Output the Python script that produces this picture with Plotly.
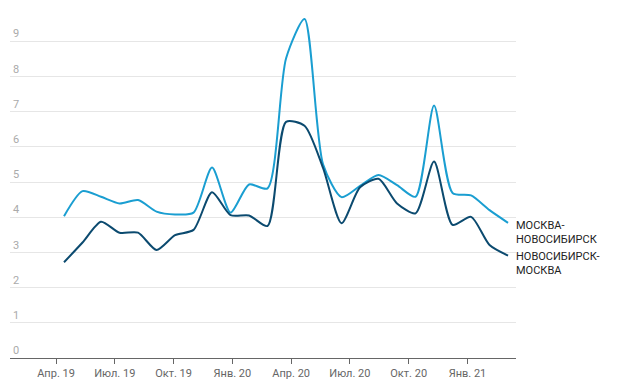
import plotly.graph_objects as go

# Data
moscow_nsk = [4.03, 4.74, 4.58, 4.39, 4.49, 4.16, 4.08, 4.13, 5.41, 4.13, 4.93, 4.82,
              8.51, 9.63, 5.50, 4.57, 4.89, 5.20, 4.91, 4.58, 7.17, 4.69, 4.62, 4.20, 3.84]
nsk_moscow = [2.72, 3.28, 3.87, 3.56, 3.56, 3.07, 3.49, 3.64, 4.71, 4.06, 4.05, 3.75,
              6.71, 6.60, 5.40, 3.83, 4.85, 5.09, 4.39, 4.11, 5.58, 3.78, 4.01, 3.21, 2.91]
x_ticklabels = ["Апр. 19", "Июл. 19", "Окт. 19", "Янв. 20", "Апр. 20", "Июл. 20", "Окт. 20", "Янв. 21"]
y_ticks = [0, 1, 2, 3, 4, 5, 6, 7, 8, 9]
label_a = "МОСКВА-<br>НОВОСИБИРСК"
label_b = "НОВОСИБИРСК-<br>МОСКВА"

LIGHT = "#1a9ed1"
DARK = "#0b4a6f"
FONT = "Roboto"

n = len(moscow_nsk)
xs = list(range(n))
# quarter ticks relative to data index
first_tick = -0.432
tick_step = 3.177
tickvals = [first_tick + i * tick_step for i in range(len(x_ticklabels))]

fig = go.Figure()
fig.add_trace(go.Scatter(x=xs, y=moscow_nsk, mode="lines",
                         line=dict(color=LIGHT, width=2, shape="spline", smoothing=0.7),
                         hoverinfo="skip", showlegend=False))
fig.add_trace(go.Scatter(x=xs, y=nsk_moscow, mode="lines",
                         line=dict(color=DARK, width=2, shape="spline", smoothing=0.7),
                         hoverinfo="skip", showlegend=False))

fig.add_annotation(x=xs[-1], y=moscow_nsk[-1], text=label_a, showarrow=False,
                   xanchor="left", yanchor="middle", xshift=6, yshift=-10, align="left",
                   font=dict(family=FONT, size=11, color="#222"))
fig.add_annotation(x=xs[-1], y=nsk_moscow[-1], text=label_b, showarrow=False,
                   xanchor="left", yanchor="middle", xshift=6, yshift=-8, align="left",
                   font=dict(family=FONT, size=11, color="#222"))

fig.update_layout(
    width=624, height=391,
    margin=dict(l=10, r=108, t=6, b=33),
    paper_bgcolor="white", plot_bgcolor="white",
    font=dict(family=FONT, size=11),
    xaxis=dict(range=[-2.92, 24.43], tickvals=tickvals, ticktext=x_ticklabels, automargin=False,
               showgrid=False, zeroline=False, showline=True, linecolor="#666", linewidth=1,
               ticks="outside", ticklen=5, tickcolor="#666",
               tickfont=dict(family=FONT, size=11, color="#666")),
    yaxis=dict(range=[0, 10], tickvals=y_ticks, showgrid=True, gridcolor="#e6e6e6", gridwidth=1,
               automargin=False, zeroline=False, ticklabelposition="inside top", ticks="",
               tickfont=dict(family=FONT, size=11, color="#aaa")),
)

fig.write_html("out.html", config={"displayModeBar": False},
               post_script="document.body.style.margin='0';document.body.style.overflow='hidden';")
